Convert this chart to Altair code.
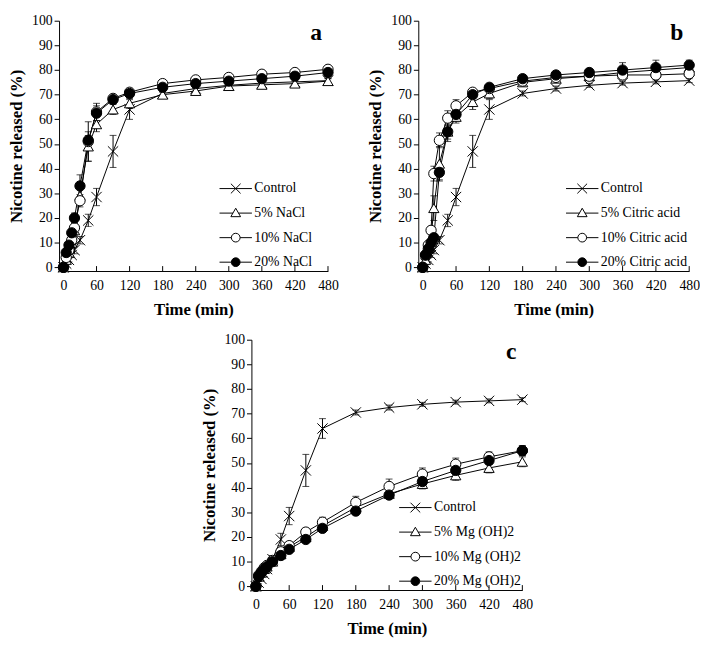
import altair as alt
import pandas as pd

times = [0, 5, 10, 15, 20, 30, 45, 60, 90, 120, 180, 240, 300, 360, 420, 480]
xticks = [0, 60, 120, 180, 240, 300, 360, 420, 480]
yticks = [0, 10, 20, 30, 40, 50, 60, 70, 80, 90, 100]

control = [0, 1.5, 3, 5, 7, 11, 19, 28.5, 47, 64, 70.5, 72.5, 73.8, 74.7, 75.2, 75.7]
control_sd = [0, 0.5, 0.8, 1, 1.5, 1.5, 2.5, 3.5, 6.5, 4, 1, 1, 0.8, 0.8, 0.8, 0.8]

nacl5 = [0, 3, 6, 10, 15, 29, 49, 58, 64, 66.5, 70, 71.5, 73.5, 74, 74.5, 75.5]
nacl5_sd = [0, 0.5, 1, 1.5, 2, 3, 6, 3, 2, 2, 1, 1, 1, 1, 1, 1]
nacl10 = [0, 4, 7, 11, 16, 27, 51, 63, 68.5, 71, 74.5, 76, 77, 78.3, 79, 80.3]
nacl10_sd = [0, 0.5, 1, 1.5, 2, 2.5, 8, 3.5, 1.5, 1, 1, 1, 1, 1, 1, 1]
nacl20 = [0, 6, 9, 14, 20, 33, 51.5, 62.5, 68, 70.5, 73, 74.5, 75.5, 76.5, 77.5, 79]
nacl20_sd = [0, 0.5, 1, 1.5, 2, 4.5, 2, 3, 1.5, 1, 1, 1, 1, 1, 1, 1]

cit5 = [0, 3, 8, 12, 24, 42, 55, 61, 67, 70.5, 75, 76.5, 77.5, 79, 80, 81]
cit5_sd = [0, 0.5, 1, 2, 5, 7, 3, 2.5, 3, 2, 1, 1, 1, 1, 1, 1]
cit10 = [0, 5, 9, 15, 38, 51.5, 60.5, 65.5, 71, 72.5, 75.5, 77, 77.5, 78, 78, 78.5]
cit10_sd = [0, 0.5, 1, 1.5, 3, 3, 3, 2.5, 1, 1, 1, 1, 1, 1, 1, 1]
cit20 = [0, 5, 7.5, 10, 12, 38.5, 55, 62, 70, 73, 76.5, 78, 79, 80, 81, 82]
cit20_sd = [0, 0.5, 1, 1, 1.5, 3, 4, 2.5, 1.5, 1, 1, 1, 1, 3, 3, 2]

mg5 = [0, 4, 5.5, 7, 8, 10, 13, 16, 20, 24.5, 32, 37.5, 41.5, 45, 48, 50.5]
mg5_sd = [0, 0.5, 0.5, 0.8, 1, 1, 1, 1.5, 1.5, 1.5, 1.5, 1.5, 2, 2, 2, 2]
mg10 = [0, 4.5, 6, 7.5, 8.5, 10.5, 14, 16.5, 22, 26, 34, 40.5, 45.5, 49.5, 52.5, 55]
mg10_sd = [0, 0.5, 0.5, 0.8, 1, 1, 1.5, 1.5, 1.5, 2, 2.5, 3, 2.5, 2.5, 2, 2]
mg20 = [0, 4, 5.5, 7, 8, 10, 12.5, 15, 19, 23.5, 30.5, 37, 42.5, 47, 51, 55]
mg20_sd = [0, 0.5, 0.5, 0.8, 1, 1, 1, 1, 1, 1, 1, 1, 1.5, 1.5, 1.5, 2]

FONT = "Liberation Serif"
H = 255

X_PATH = "M-1,-1L1,1M-1,1L1,-1"
LEG_X = "M-1,0L1,0M-0.3,-0.3L0.3,0.3M-0.3,0.3L0.3,-0.3"
LEG_TRI = "M-1,0L-0.17,0M0.17,0L1,0M0,-0.3L0.3,0.22L-0.3,0.22Z"
LEG_CIRC = ("M-1,0L-0.27,0M0.27,0L1,0M-0.27,0A0.27,0.27 0 1,0 0.27,0"
            "A0.27,0.27 0 1,0 -0.27,0Z")
FILLS = ["transparent", "white", "white", "black"]


def panel(names, vals, sds, letter, lx, ly, W):
    rows = []
    for k, (nm, v, s) in enumerate(zip(names, vals, sds)):
        for t, y, e in zip(times, v, s):
            rows.append({"series": nm, "k": k, "t": t, "y": y,
                         "lo": y - e, "hi": y + e, "off": -1000})
    df = pd.DataFrame(rows)
    base = alt.Chart(df)
    xs = alt.Scale(domain=[-8, 480], nice=False, zero=False)
    ys = alt.Scale(domain=[-1.5, 100], nice=False, zero=False)
    xax = alt.Axis(values=xticks, ticks=False, title="Time (min)",
                   labelPadding=8, titlePadding=9, labelFont=FONT,
                   labelFontSize=14, titleFont=FONT, titleFontSize=17,
                   titleFontWeight="bold", labelOverlap=False,
                   labelFlush=False, labelColor="black", titleColor="black",
                   domainColor="black", grid=False)
    yax = alt.Axis(values=yticks, tickSize=5, tickColor="black",
                   title="Nicotine released (%)", titlePadding=6,
                   labelFont=FONT, labelFontSize=14, titleFont=FONT,
                   titleFontSize=17, titleFontWeight="bold",
                   labelOverlap=False, labelFlush=False, labelColor="black",
                   titleColor="black", domainColor="black", grid=False)

    def XQ(f="t"):
        return alt.X(f + ":Q", scale=xs, axis=xax)

    def YQ(f):
        return alt.Y(f + ":Q", scale=ys, axis=yax)

    rule = base.mark_rule(color="black", strokeWidth=1).encode(
        x=XQ(), y=YQ("lo"), y2="hi:Q")
    caps_lo = base.mark_tick(color="black", orient="horizontal", size=7,
                             thickness=1).encode(x=XQ(), y=YQ("lo"))
    caps_hi = base.mark_tick(color="black", orient="horizontal", size=7,
                             thickness=1).encode(x=XQ(), y=YQ("hi"))
    lines = base.mark_line(color="black", strokeWidth=1).encode(
        x=XQ(), y=YQ("y"), detail="series:N", order="t:Q")
    pts = base.mark_point(stroke="black", strokeWidth=1, size=110,
                          opacity=1).encode(
        x=XQ(), y=YQ("y"),
        shape=alt.Shape("series:N", scale=alt.Scale(
            domain=names,
            range=[X_PATH, "triangle-up", "circle", "circle"]), legend=None),
        fill=alt.Fill("series:N", scale=alt.Scale(domain=names, range=FILLS),
                      legend=None),
    )
    lg = alt.Legend(orient="none", legendX=lx, legendY=ly, title=None,
                    symbolSize=1089, symbolStrokeColor="black",
                    symbolStrokeWidth=1, labelFont=FONT, labelFontSize=14,
                    labelColor="black", labelOffset=2, rowPadding=1)
    leg = base.mark_point(strokeWidth=1, opacity=1, clip=True).encode(
        x=XQ(), y=YQ("off"),
        shape=alt.Shape("series:N", scale=alt.Scale(
            domain=names, range=[LEG_X, LEG_TRI, LEG_CIRC, LEG_CIRC]),
            legend=lg),
        fill=alt.Fill("series:N", scale=alt.Scale(domain=names, range=FILLS),
                      legend=lg),
        stroke=alt.Stroke("series:N", scale=alt.Scale(
            domain=names, range=["black"] * 4), legend=lg),
    )
    tickmarks = alt.Chart(pd.DataFrame({"t": xticks})).mark_rule(
        color="black").encode(x=XQ(), y=alt.value(H), y2=alt.value(H - 5))
    lab = alt.Chart(pd.DataFrame({"letter": [letter]})).mark_text(
        font=FONT, fontSize=24, fontWeight="bold", align="right",
        baseline="alphabetic", color="black").encode(
        text="letter:N", x=alt.value(W - 6), y=alt.value(20))
    ch = alt.layer(rule, caps_lo, caps_hi, lines, pts, leg, tickmarks,
                   lab).resolve_scale(
        shape="independent", fill="independent",
        stroke="independent").properties(width=W, height=H)
    return ch


a = panel(["Control", "5% NaCl", "10% NaCl", "20% NaCl"],
          [control, nacl5, nacl10, nacl20],
          [control_sd, nacl5_sd, nacl10_sd, nacl20_sd], "a", 163, 154, 274)
b = panel(["Control", "5% Citric acid", "10% Citric acid", "20% Citric acid"],
          [control, cit5, cit10, cit20],
          [control_sd, cit5_sd, cit10_sd, cit20_sd], "b", 150, 154, 276)
c = panel(["Control", "5% Mg (OH)2", "10% Mg (OH)2", "20% Mg (OH)2"],
          [control, mg5, mg10, mg20],
          [control_sd, mg5_sd, mg10_sd, mg20_sd], "c", 150, 154, 276)

spacer = alt.Chart(pd.DataFrame({"v": [0]})).mark_point(opacity=0).properties(
    width=125, height=10)

top = alt.hconcat(a, b, spacing=29)
bottom = alt.hconcat(spacer, c, spacing=19)
chart = alt.vconcat(top, bottom, spacing=16).properties(
    padding=0
).configure_view(stroke=None)

chart.save("out.html", embed_options={"renderer": "svg", "actions": False})
